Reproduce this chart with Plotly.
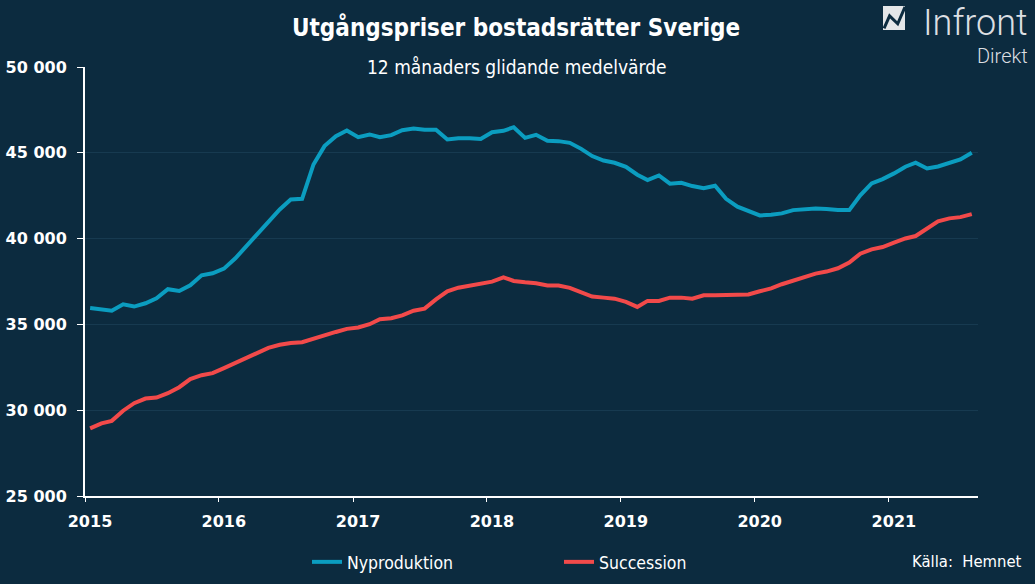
import pandas as pd
import plotly.graph_objects as go

# ---- data (monthly, Jan 2015 - Aug 2021, 12-month moving average, SEK/m2) ----
months = pd.date_range("2015-01-01", periods=80, freq="MS") + pd.Timedelta(days=14)

nyproduktion = [
    35950, 35880, 35800, 36170, 36040, 36230, 36520, 37050, 36950, 37280, 37860, 37980,
    38250, 38850, 39530, 40250, 41020, 41700, 42280, 42320, 44320, 45390, 45970, 46300,
    45910, 46070, 45910, 46030, 46320, 46420, 46340, 46340, 45780, 45850, 45850, 45800,
    46200, 46280, 46490, 45870, 46050, 45700, 45680, 45580, 45230, 44810, 44550, 44420,
    44180, 43720, 43410, 43680, 43200, 43250, 43060, 42940, 43080, 42320, 41860, 41610,
    41350, 41390, 41470, 41660, 41720, 41760, 41720, 41660, 41660, 42520, 43220, 43470,
    43800, 44190, 44420, 44090, 44200, 44400, 44610, 45000,
]
succession = [
    28940, 29230, 29380, 29970, 30410, 30680, 30740, 30990, 31340, 31810, 32040, 32160,
    32450, 32760, 33070, 33360, 33630, 33810, 33920, 33960, 34180, 34390, 34560, 34740,
    34820, 35010, 35300, 35360, 35530, 35800, 35920, 36460, 36930, 37140, 37260, 37380,
    37490, 37740, 37530, 37450, 37400, 37270, 37260, 37130, 36890, 36620, 36560, 36500,
    36310, 36020, 36370, 36370, 36560, 36560, 36500, 36700, 36700, 36700, 36740, 36740,
    36930, 37100, 37340, 37530, 37760, 37960, 38080, 38270, 38600, 39120, 39370, 39510,
    39760, 40010, 40150, 40600, 41000, 41180, 41250, 41430,
]
series_names = ["Nyproduktion", "Succession"]
series_colors = ["#0b9dc0", "#f24a4a"]
y_ticks = [25000, 30000, 35000, 40000, 45000, 50000]

title_text = "Utgångspriser bostadsrätter Sverige"
subtitle_text = "12 månaders glidande medelvärde"
source_text = "Källa:\u00a0 Hemnet"

BG = "#0c2b3f"
GRID = "#173a50"
COND = "DejaVu Sans Condensed, Liberation Sans Narrow, DejaVu Sans"

fig = go.Figure()
for name, vals, col in zip(series_names, [nyproduktion, succession], series_colors):
    fig.add_trace(go.Scatter(x=months, y=vals, name=name, mode="lines",
                             line=dict(color=col, width=4)))

fig.update_layout(
    width=1035, height=584,
    paper_bgcolor=BG, plot_bgcolor=BG,
    margin=dict(l=85, r=57, t=67, b=88, autoexpand=False),
    separators=", ",
    showlegend=True,
    legend=dict(orientation="h", x=0.2486, y=-0.1538, xanchor="left", yanchor="middle",
                font=dict(family=COND, size=17.5, color="#ffffff"),
                entrywidth=207, entrywidthmode="pixels", bgcolor="rgba(0,0,0,0)",
                itemclick=False, itemdoubleclick=False),
    xaxis=dict(
        type="date", range=["2015-01-01", "2021-09-01"], automargin=False,
        tick0="2015-01-01", dtick="M12", tickformat="%Y",
        showgrid=False, zeroline=False,
        showline=True, linecolor="#ffffff", linewidth=2,
        ticks="outside", ticklen=4, tickwidth=1, tickcolor="#ffffff",
        tickfont=dict(family="DejaVu Sans", size=16, color="#ffffff", weight="bold"),
        ticklabelshift=5, ticklabelstandoff=6,
    ),
    yaxis=dict(
        range=[25000, 50000], tickvals=y_ticks, tickformat=",d", automargin=False,
        showgrid=True, gridcolor=GRID, gridwidth=1, zeroline=False,
        showline=True, linecolor="#ffffff", linewidth=2,
        ticks="outside", ticklen=6, tickwidth=1, tickcolor="#ffffff",
        tickfont=dict(family="DejaVu Sans", size=16, color="#ffffff", weight="bold"),
        ticklabelstandoff=7,
    ),
)

annotations = [
    dict(text=title_text, x=0.4822, y=1.0932, xref="paper", yref="paper",
         xanchor="center", yanchor="middle", showarrow=False,
         font=dict(family=COND, size=24, color="#ffffff", weight="bold")),
    dict(text=subtitle_text, x=0.4843, y=1.0, xref="paper", yref="paper",
         xanchor="center", yanchor="middle", showarrow=False,
         font=dict(family=COND, size=19, color="#ffffff")),
    dict(text=source_text, x=1.052, y=-0.1538, xref="paper", yref="paper",
         xanchor="right", yanchor="middle", showarrow=False,
         font=dict(family=COND, size=16.5, color="#ffffff")),
    dict(text="Infront", x=1.0582, y=1.1562, xref="paper", yref="paper",
         xanchor="right", yanchor="top", showarrow=False,
         font=dict(family="Roboto", size=36, color="#dcdfe2", weight=300)),
    dict(text="Direkt", x=1.0582, y=1.0256, xref="paper", yref="paper",
         xanchor="right", yanchor="middle", showarrow=False,
         font=dict(family="Roboto", size=20, color="#dcdfe2", weight=300)),
]
fig.update_layout(annotations=annotations)

# logo icon (square with zigzag)
def px_x(p):
    return (p - 85) / 893.0

def px_y(p):
    return (496 - p) / 429.0

x0, x1, y0, y1 = 883, 905, 6, 30
fig.add_shape(type="rect", xref="paper", yref="paper",
              x0=px_x(x0), x1=px_x(x1), y0=px_y(y1), y1=px_y(y0),
              fillcolor="#e4e6e8", line=dict(width=0))
fr = [(0.05, 0.93), (0.3, 0.41), (0.67, 0.74), (1.0, 0.04)]
path = ""
for k, (fx, fy) in enumerate(fr):
    X = px_x(x0 + fx * (x1 - x0))
    Y = px_y(y0 + fy * (y1 - y0))
    path += ("M" if k == 0 else "L") + f"{X:.4f},{Y:.4f} "
fig.add_shape(type="path", xref="paper", yref="paper", path=path,
              line=dict(color=BG, width=3))

fig.write_html("out.html", config={"displayModeBar": False},
               post_script="document.body.style.margin='0px';")
